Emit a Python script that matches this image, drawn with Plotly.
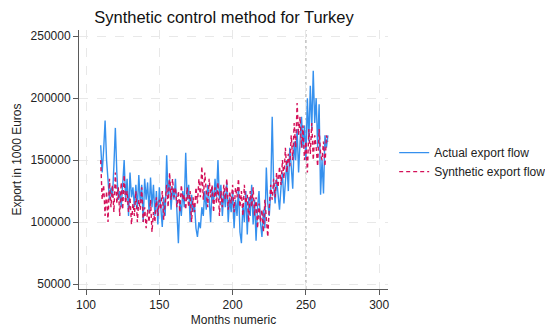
import plotly.graph_objects as go

# Monthly export flows for Turkey (1000 Euros), months 110-265
months = list(range(110, 266))

actual_flow = [
    162000, 140000, 158000, 182000, 150000, 130000, 118000, 128000, 120000, 145000,
    176000, 140000, 118000, 125000, 112000, 130000, 150000, 118000, 135000, 105000,
    140000, 120000, 128000, 112000, 130000, 110000, 138000, 115000, 130000, 100000,
    135000, 118000, 132000, 108000, 136000, 112000, 130000, 105000, 125000, 98000,
    128000, 112000, 96000, 120000, 105000, 154000, 120000, 135000, 110000, 128000,
    118000, 135000, 100000, 83000, 118000, 105000, 125000, 112000, 156000, 118000,
    130000, 100000, 122000, 108000, 115000, 95000, 88000, 100000, 95000, 112000,
    105000, 125000, 110000, 130000, 118000, 100000, 128000, 115000, 135000, 120000,
    150000, 118000, 130000, 105000, 125000, 112000, 132000, 100000, 120000, 108000,
    125000, 95000, 118000, 105000, 128000, 92000, 83000, 115000, 100000, 125000,
    90000, 120000, 105000, 130000, 98000, 118000, 85000, 112000, 125000, 100000,
    88000, 110000, 95000, 144000, 115000, 105000, 125000, 185000, 130000, 115000,
    135000, 120000, 110000, 128000, 140000, 115000, 135000, 150000, 125000, 160000,
    145000, 127000, 165000, 150000, 175000, 140000, 165000, 185000, 160000, 178000,
    150000, 200000, 165000, 210000, 175000, 222000, 180000, 200000, 160000, 195000,
    122000, 150000, 123000, 170000, 160000, 170000,
]

synthetic_flow = [
    150000, 118000, 130000, 105000, 125000, 100000, 135000, 112000, 130000, 108000,
    140000, 115000, 128000, 105000, 132000, 110000, 138000, 115000, 125000, 108000,
    120000, 98000, 115000, 105000, 125000, 100000, 118000, 110000, 128000, 100000,
    112000, 95000, 110000, 100000, 118000, 92000, 108000, 100000, 120000, 105000,
    118000, 110000, 125000, 102000, 115000, 130000, 112000, 140000, 118000, 135000,
    120000, 128000, 112000, 125000, 108000, 130000, 118000, 122000, 110000, 128000,
    112000, 125000, 100000, 120000, 108000, 128000, 115000, 135000, 120000, 145000,
    118000, 140000, 125000, 112000, 135000, 120000, 130000, 108000, 128000, 115000,
    132000, 105000, 125000, 112000, 130000, 118000, 135000, 110000, 125000, 115000,
    130000, 108000, 128000, 120000, 135000, 112000, 125000, 105000, 130000, 115000,
    122000, 100000, 125000, 112000, 128000, 105000, 120000, 95000, 115000, 100000,
    110000, 92000, 118000, 105000, 88000, 112000, 130000, 118000, 135000, 120000,
    140000, 128000, 145000, 130000, 150000, 135000, 160000, 140000, 155000, 145000,
    170000, 150000, 180000, 160000, 196000, 170000, 185000, 160000, 178000, 150000,
    165000, 140000, 175000, 155000, 180000, 150000, 170000, 160000, 145000, 175000,
    155000, 150000, 165000, 145000, 170000, 165000,
]

x_ticks = [100, 150, 200, 250, 300]
y_ticks = [50000, 100000, 150000, 200000, 250000]
y_tick_labels = ["50000", "100000", "150000", "200000", "250000"]
treatment_month = 250

font_family = "Liberation Sans, Arial, sans-serif"
axis_color = "#5a5a5a"
grid_color = "#e8e8e8"

fig = go.Figure()

fig.add_trace(go.Scatter(
    x=months, y=actual_flow, mode="lines", name="Actual export flow",
    line=dict(color="#3590ee", width=1.4),
))
fig.add_trace(go.Scatter(
    x=months, y=synthetic_flow, mode="lines", name="Synthetic export flow",
    line=dict(color="#d41159", width=1.4, dash="4px,3px"),
))

# Treatment date marker
fig.add_shape(
    type="line", xref="x", yref="paper",
    x0=treatment_month, x1=treatment_month, y0=0, y1=1,
    line=dict(color="#a0a0a0", width=1, dash="dot"),
    layer="below",
)

fig.update_layout(
    width=545, height=329,
    margin=dict(l=79, r=157, t=30, b=40, autoexpand=False),
    paper_bgcolor="white", plot_bgcolor="white",
    font=dict(family=font_family, size=12, color="#222222"),
    title=dict(
        text="Synthetic control method for Turkey",
        x=224 / 545, xanchor="center",
        y=1 - 17 / 329, yanchor="middle",
        font=dict(size=16.5, color="#111111"),
    ),
    showlegend=True,
    legend=dict(
        x=1.02, xanchor="left", y=0.49, yanchor="middle",
        bgcolor="rgba(0,0,0,0)", font=dict(size=12),
        tracegroupgap=0, itemwidth=30,
    ),
)

fig.update_xaxes(
    range=[95.2, 306], tickvals=x_ticks,
    showline=True, linecolor=axis_color, linewidth=1,
    ticks="outside", ticklen=5, tickcolor=axis_color,
    showgrid=True, gridcolor=grid_color, griddash="dash", gridwidth=1,
    zeroline=False,
    title=dict(text="Months numeric", font=dict(size=12), standoff=4),
    tickfont=dict(size=12),
)
fig.update_yaxes(
    range=[46000, 255000], tickvals=y_ticks, ticktext=y_tick_labels,
    showline=True, linecolor=axis_color, linewidth=1,
    ticks="outside", ticklen=5, tickcolor=axis_color,
    showgrid=True, gridcolor=grid_color, griddash="dash", gridwidth=1,
    zeroline=False,
    title=dict(text="Export in 1000 Euros", font=dict(size=12), standoff=6),
    tickfont=dict(size=12),
)

fig.write_html("out.html")
